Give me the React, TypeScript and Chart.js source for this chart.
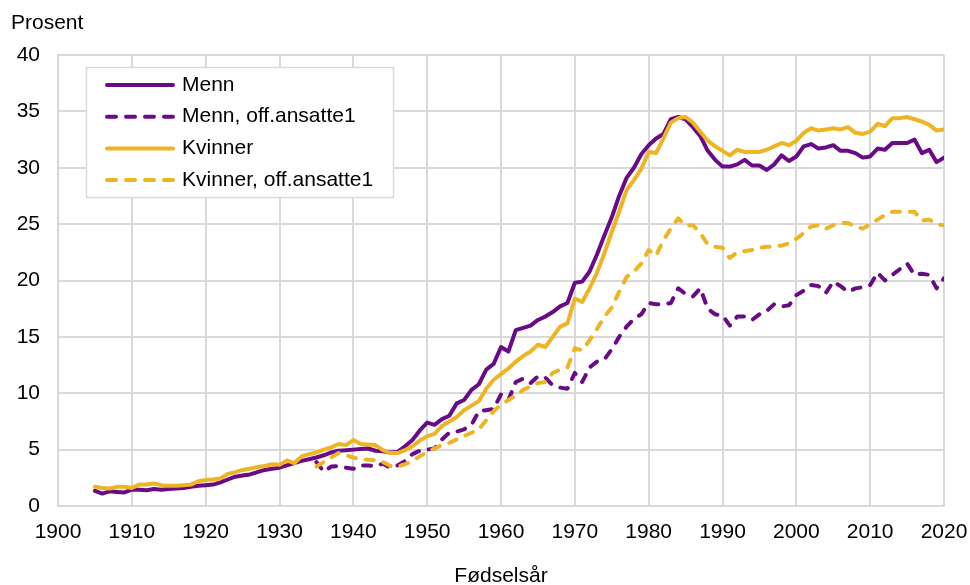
import React, { useEffect, useRef } from "react";
import { Chart, registerables } from "chart.js";

Chart.register(...registerables);

// Birth-year categories
const firstYearAll = 1905;
const firstYearOff = 1935;

const xTickYears = [1900, 1910, 1920, 1930, 1940, 1950, 1960, 1970, 1980, 1990, 2000, 2010, 2020];
const yTickValues = [0, 5, 10, 15, 20, 25, 30, 35, 40];

const seriesNames = ["Menn", "Menn, off.ansatte1", "Kvinner", "Kvinner, off.ansatte1"];

// 1905–2020
const menn = [
  1.35, 1.1, 1.3, 1.25, 1.2, 1.45, 1.45, 1.4, 1.5, 1.45,
  1.5, 1.55, 1.6, 1.7, 1.8, 1.85, 1.9, 2.1, 2.35, 2.6,
  2.7, 2.8, 3.0, 3.2, 3.3, 3.4, 3.6, 3.8, 4.0, 4.15,
  4.3, 4.5, 4.75, 4.9, 4.95, 5.0, 5.05, 5.1, 4.9, 4.85,
  4.75, 4.8, 5.3, 5.85, 6.7, 7.4, 7.2, 7.7, 8.0, 9.1,
  9.4, 10.3, 10.8, 12.1, 12.6, 14.1, 13.7, 15.6, 15.8, 16.0,
  16.5, 16.8, 17.2, 17.7, 18.0, 19.8, 19.9, 20.8, 22.3, 24.0,
  25.6, 27.5, 29.1, 30.0, 31.2, 32.0, 32.6, 33.0, 34.3, 34.5,
  34.3, 33.6, 32.8, 31.5, 30.7, 30.1, 30.1, 30.3, 30.7, 30.2,
  30.2, 29.8, 30.3, 31.1, 30.6, 31.0, 31.9, 32.1, 31.7, 31.8,
  32.0, 31.5, 31.5, 31.3, 30.9, 31.0, 31.7, 31.6, 32.2, 32.2,
  32.2, 32.5, 31.3, 31.6, 30.5, 30.9,
];

// 1905–2020
const kvinner = [
  1.7, 1.6, 1.55, 1.7, 1.7, 1.6, 1.9, 1.9, 2.0, 1.85,
  1.8, 1.8, 1.85, 1.9, 2.2, 2.3, 2.35, 2.45, 2.85, 3.0,
  3.2, 3.3, 3.45, 3.55, 3.7, 3.65, 4.05, 3.8, 4.4, 4.6,
  4.75, 5.0, 5.2, 5.5, 5.4, 5.85, 5.5, 5.45, 5.4, 4.95,
  4.7, 4.7, 4.95, 5.3, 5.8, 6.2, 6.4, 7.1, 7.5, 7.9,
  8.5, 8.9, 9.3, 10.4, 11.2, 11.7, 12.2, 12.8, 13.3, 13.7,
  14.3, 14.1, 15.0, 15.9, 16.2, 18.4, 18.1, 19.3, 20.7, 22.4,
  24.3, 26.1, 28.0, 28.9, 29.9, 31.4, 31.3, 32.6, 34.0, 34.4,
  34.5, 34.0, 33.2, 32.4, 31.9, 31.5, 31.1, 31.6, 31.4, 31.4,
  31.4, 31.6, 31.9, 32.2, 32.0, 32.4, 33.1, 33.5, 33.3, 33.4,
  33.5, 33.4, 33.6, 33.1, 33.0, 33.2, 33.9, 33.7, 34.4, 34.4,
  34.5, 34.3, 34.1, 33.8, 33.3, 33.4,
];

// 1935–2020
const mennOff = [
  3.9, 3.05, 3.5, 3.55, 3.4, 3.3, 3.6, 3.6, 3.55, 3.75,
  3.4, 3.6, 4.0, 4.6, 4.9, 5.0, 5.1, 5.9, 6.5, 6.6,
  6.8, 7.2, 8.4, 8.5, 8.6, 9.9, 9.4, 11.0, 11.3, 10.9,
  11.5, 11.4, 10.7, 10.5, 10.4, 11.8, 11.0, 12.3, 12.8, 13.0,
  13.9, 15.0, 15.9, 16.6, 17.0, 18.0, 17.9, 17.9, 18.0, 19.3,
  18.8, 18.6, 19.3, 17.5, 17.0, 16.9, 16.0, 16.8, 16.8, 16.5,
  17.0, 17.3, 17.9, 17.7, 17.8, 18.7, 19.1, 19.6, 19.5, 18.9,
  19.9, 19.5, 19.0, 19.3, 19.4, 19.6, 20.7, 20.0, 20.5, 21.0,
  21.5, 20.5, 20.6, 20.5, 19.3, 20.2,
];

// 1935–2020
const kvinnerOff = [
  3.5, 3.9, 4.3, 4.7, 4.5, 4.3, 4.15, 4.1, 4.05, 3.9,
  3.55, 3.5, 3.7, 4.0, 4.4, 4.8, 5.1, 5.4, 5.6, 5.9,
  6.2, 6.5, 6.8, 7.6, 8.4, 9.0, 9.4, 9.8, 10.3, 10.6,
  10.9, 11.0, 11.8, 12.1, 12.3, 14.0, 13.8, 14.7, 15.7, 16.8,
  17.6, 19.0, 20.3, 20.8, 21.5, 22.7, 22.2, 23.6, 24.6, 25.5,
  24.9, 24.9, 24.2, 23.2, 23.0, 22.9, 22.0, 22.5, 22.6, 22.7,
  22.9, 23.0, 23.0, 23.1, 23.3, 23.7, 24.2, 24.8, 24.9, 24.6,
  24.9, 25.1, 25.1, 24.8, 24.6, 25.0, 25.4, 25.8, 26.1, 26.1,
  26.1, 26.1, 25.3, 25.4, 25.0, 24.9,
];

const PURPLE = "#690B87";
const YELLOW = "#EEB424";
const GRID = "#d9d9d9";
const FONT = '"Liberation Sans", Arial, sans-serif';
const LINE_W = 4;

const toPoints = (start: number, vals: number[]) => vals.map((v, i) => ({ x: start + i, y: v }));

const overlayPlugin = {
  id: "overlay",
  afterDraw(chart: any) {
    const ctx = chart.ctx as CanvasRenderingContext2D;
    const a = chart.chartArea;
    ctx.save();
    ctx.fillStyle = "#000";
    ctx.font = `21px ${FONT}`;
    ctx.textAlign = "left";
    ctx.textBaseline = "alphabetic";
    ctx.fillText("Prosent", 11, 29);
    ctx.textAlign = "center";
    ctx.fillText("Fødselsår", (a.left + a.right) / 2, 582);

    // legend box
    const bx = 86.5, by = 67.5, bw = 307, bh = 130;
    ctx.fillStyle = "#fff";
    ctx.fillRect(bx, by, bw, bh);
    ctx.strokeStyle = GRID;
    ctx.lineWidth = 1.5;
    ctx.strokeRect(bx, by, bw, bh);

    const dsOrder = [0, 1, 2, 3];
    dsOrder.forEach((di, row) => {
      const ds = chart.data.datasets[di];
      const y = 85 + row * 31.7;
      const dashed = ds.borderDash && ds.borderDash.length;
      ctx.beginPath();
      ctx.strokeStyle = ds.borderColor;
      ctx.lineWidth = 4;
      ctx.lineCap = "round";
      ctx.setLineDash(dashed ? [9, 10] : []);
      ctx.moveTo(107, y);
      ctx.lineTo(173, y);
      ctx.stroke();
      ctx.setLineDash([]);
      ctx.fillStyle = "#000";
      ctx.textAlign = "left";
      ctx.textBaseline = "middle";
      ctx.font = `21px ${FONT}`;
      ctx.fillText(ds.label, 182, y);
    });
    ctx.restore();
  },
};

export default function App() {
  const ref = useRef<HTMLCanvasElement>(null);

  useEffect(() => {
    document.body.style.margin = "0";
    const canvas = ref.current;
    if (!canvas) return;
    const mk = (label: string, data: any[], color: string, dashed: boolean, order: number) => ({
      label,
      data,
      borderColor: color,
      backgroundColor: color,
      borderWidth: LINE_W,
      borderDash: dashed ? [8, 10] : [],
      borderCapStyle: "round",
      borderJoinStyle: "round",
      pointRadius: 0,
      tension: 0,
      order,
    });
    const chart = new Chart(canvas, {
      type: "line",
      data: {
        datasets: [
          mk(seriesNames[0], toPoints(firstYearAll, menn), PURPLE, false, 4),
          mk(seriesNames[1], toPoints(firstYearOff, mennOff), PURPLE, true, 3),
          mk(seriesNames[2], toPoints(firstYearAll, kvinner), YELLOW, false, 2),
          mk(seriesNames[3], toPoints(firstYearOff, kvinnerOff), YELLOW, true, 1),
        ] as any,
      },
      options: {
        animation: false,
        responsive: false,
        devicePixelRatio: 1,
        layout: { padding: { top: 55, left: 0, right: 26, bottom: 0 } },
        plugins: {
          legend: { display: false },
          tooltip: { enabled: false },
          title: { display: false },
        },
        scales: {
          x: {
            type: "linear",
            min: xTickYears[0],
            max: xTickYears[xTickYears.length - 1],
            afterBuildTicks: (s: any) => {
              s.ticks = xTickYears.map((v) => ({ value: v }));
            },
            afterFit: (s: any) => {
              s.height = 79;
              s.paddingLeft = 0;
              s.paddingRight = 0;
            },
            grid: { color: GRID, lineWidth: 2, drawTicks: false },
            border: { color: GRID, width: 2 },
            ticks: {
              padding: 14,
              color: "#000",
              font: { family: FONT, size: 21 },
              maxRotation: 0,
              autoSkip: false,
              callback: (v: any) => String(v),
            },
          },
          y: {
            type: "linear",
            min: yTickValues[0],
            max: yTickValues[yTickValues.length - 1],
            afterBuildTicks: (s: any) => {
              s.ticks = yTickValues.map((v) => ({ value: v }));
            },
            afterFit: (s: any) => {
              s.width = 58;
              s.paddingTop = 0;
              s.paddingBottom = 0;
            },
            grid: { color: GRID, lineWidth: 2, drawTicks: false },
            border: { color: GRID, width: 2 },
            ticks: {
              padding: 18,
              color: "#000",
              font: { family: FONT, size: 21 },
              callback: (v: any) => String(v),
            },
          },
        },
      },
      plugins: [overlayPlugin],
    });
    return () => chart.destroy();
  }, []);

  return (
    <div style={{ position: "absolute", left: 0, top: 0, width: 970, height: 585 }}>
      <canvas ref={ref} width={970} height={585} style={{ width: 970, height: 585, display: "block" }} />
    </div>
  );
}
